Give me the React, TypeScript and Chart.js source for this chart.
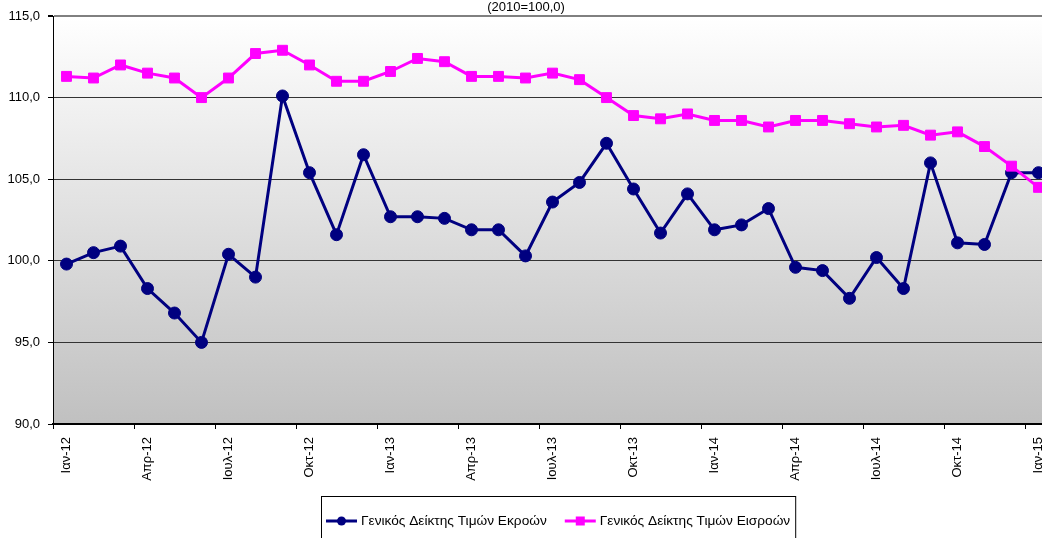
import React, { useEffect, useRef } from 'react';
import { Chart, registerables } from 'chart.js';

Chart.register(...registerables);

const FONT = '"Liberation Sans", Arial, Helvetica, sans-serif';

const categories = [
  'Ιαν-12', 'Φεβ-12', 'Μαρ-12', 'Απρ-12', 'Μαϊ-12', 'Ιουν-12', 'Ιουλ-12', 'Αυγ-12', 'Σεπ-12', 'Οκτ-12', 'Νοε-12', 'Δεκ-12',
  'Ιαν-13', 'Φεβ-13', 'Μαρ-13', 'Απρ-13', 'Μαϊ-13', 'Ιουν-13', 'Ιουλ-13', 'Αυγ-13', 'Σεπ-13', 'Οκτ-13', 'Νοε-13', 'Δεκ-13',
  'Ιαν-14', 'Φεβ-14', 'Μαρ-14', 'Απρ-14', 'Μαϊ-14', 'Ιουν-14', 'Ιουλ-14', 'Αυγ-14', 'Σεπ-14', 'Οκτ-14', 'Νοε-14', 'Δεκ-14',
  'Ιαν-15',
];

const outputIndex = [
  99.8, 100.5, 100.9, 98.3, 96.8, 95.0, 100.4, 99.0, 110.1, 105.4, 101.6, 106.5,
  102.7, 102.7, 102.6, 101.9, 101.9, 100.3, 103.6, 104.8, 107.2, 104.4, 101.7, 104.1,
  101.9, 102.2, 103.2, 99.6, 99.4, 97.7, 100.2, 98.3, 106.0, 101.1, 101.0, 105.4,
  105.4,
];

const inputIndex = [
  111.3, 111.2, 112.0, 111.5, 111.2, 110.0, 111.2, 112.7, 112.9, 112.0, 111.0, 111.0,
  111.6, 112.4, 112.2, 111.3, 111.3, 111.2, 111.5, 111.1, 110.0, 108.9, 108.7, 109.0,
  108.6, 108.6, 108.2, 108.6, 108.6, 108.4, 108.2, 108.3, 107.7, 107.9, 107.0, 105.8,
  104.5,
];

const seriesNames = ['Γενικός Δείκτης Τιμών Εκροών', 'Γενικός Δείκτης Τιμών Εισροών'];
const seriesColors = ['#000080', '#ff00ff'];
const titleText = '(2010=100,0)';
const yMin = 90;
const yMax = 115;
const yStep = 5;
const labelEvery = 3;

const bgPlugin = {
  id: 'plotBg',
  beforeDraw(chart: any) {
    const { ctx, chartArea: a } = chart;
    const g = ctx.createLinearGradient(0, a.top, 0, a.bottom);
    g.addColorStop(0, '#ffffff');
    g.addColorStop(1, '#c0c0c0');
    ctx.save();
    ctx.fillStyle = g;
    ctx.fillRect(a.left, a.top, a.right - a.left, a.bottom - a.top);
    ctx.restore();
  },
};

const legendPlugin = {
  id: 'boxLegend',
  afterDraw(chart: any) {
    const ctx = chart.ctx;
    ctx.save();
    ctx.font = `13.7px ${FONT}`;
    const left = 321;
    const top = 496.5;
    const cy = 521;
    const lineLen = 31;
    let x = left + 5;
    chart.data.datasets.forEach((ds: any, i: number) => {
      ctx.strokeStyle = ds.borderColor;
      ctx.lineWidth = 3;
      ctx.beginPath();
      ctx.moveTo(x, cy);
      ctx.lineTo(x + lineLen, cy);
      ctx.stroke();
      const mx = x + lineLen / 2;
      ctx.fillStyle = ds.borderColor;
      if (ds.pointStyle === 'rect') {
        ctx.fillRect(mx - 4.5, cy - 4.5, 9, 9);
      } else {
        ctx.beginPath();
        ctx.arc(mx, cy, 4.5, 0, Math.PI * 2);
        ctx.fill();
      }
      x += lineLen + 4;
      ctx.fillStyle = '#000';
      ctx.textBaseline = 'middle';
      ctx.textAlign = 'left';
      ctx.fillText(ds.label, x, cy);
      x += ctx.measureText(ds.label).width;
      if (i < chart.data.datasets.length - 1) x += 18;
    });
    const right = x + 5;
    ctx.strokeStyle = '#000';
    ctx.lineWidth = 1;
    ctx.strokeRect(left + 0.5, top, right - left, 60);
    ctx.restore();
  },
};

export default function App() {
  const ref = useRef<HTMLCanvasElement | null>(null);

  useEffect(() => {
    if (!ref.current) return;
    Chart.defaults.font.family = FONT;
    const chart = new Chart(ref.current, {
      type: 'line',
      data: {
        labels: categories,
        datasets: [
          {
            label: seriesNames[0],
            data: outputIndex,
            borderColor: seriesColors[0],
            backgroundColor: seriesColors[0],
            borderWidth: 3,
            pointStyle: 'circle',
            pointRadius: 6,
            pointBorderWidth: 1,
            tension: 0,
            order: 2,
          },
          {
            label: seriesNames[1],
            data: inputIndex,
            borderColor: seriesColors[1],
            backgroundColor: seriesColors[1],
            borderWidth: 3,
            pointStyle: 'rect',
            pointRadius: 7,
            pointBorderWidth: 1,
            tension: 0,
            order: 1,
          },
        ],
      },
      options: {
        responsive: false,
        animation: false,
        events: [],
        layout: { padding: { left: 0, right: 10, top: 0, bottom: 54 } },
        plugins: {
          legend: { display: false },
          tooltip: { enabled: false },
          title: {
            display: true,
            text: titleText,
            color: '#000',
            font: { size: 13, weight: 'normal', lineHeight: 1 },
            padding: { top: 1, bottom: 2 },
          },
        },
        scales: {
          x: {
            type: 'category',
            offset: true,
            afterFit(scale: any) {
              scale.height = 60;
              scale.paddingLeft = 0;
              scale.paddingRight = 0;
            },
            grid: {
              offset: true,
              drawOnChartArea: false,
              drawTicks: true,
              tickLength: 5,
              tickColor: (c: any) => (c.index % labelEvery === 0 ? '#000' : 'rgba(0,0,0,0)'),
            },
            border: { display: true, color: '#000', width: 2 },
            ticks: {
              autoSkip: false,
              maxRotation: 90,
              minRotation: 90,
              padding: 8,
              color: '#000',
              font: { size: 13 },
              callback: (_v: any, i: number) => (i % labelEvery === 0 ? categories[i] : ''),
            },
          },
          y: {
            min: yMin,
            max: yMax,
            afterFit(scale: any) {
              scale.width = 53;
            },
            grid: {
              drawTicks: true,
              tickLength: 5,
              tickColor: '#000',
              color: (c: any) => {
                const v = c.tick ? c.tick.value : null;
                if (v === yMax) return '#808080';
                if (v === yMin) return 'rgba(0,0,0,0)';
                return '#333333';
              },
              lineWidth: (c: any) => (c.tick && c.tick.value === yMax ? 2 : 1),
            },
            border: { display: true, color: '#000', width: 1 },
            ticks: {
              stepSize: yStep,
              padding: 8,
              color: '#000',
              font: { size: 13 },
              callback: (v: any) => Number(v).toFixed(1).replace('.', ','),
            },
          },
        },
      },
      plugins: [bgPlugin, legendPlugin],
    } as any);
    return () => chart.destroy();
  }, []);

  return (
    <div style={{ position: 'fixed', left: 0, top: 0, width: 1042, height: 538, overflow: 'hidden', background: '#fff' }}>
      <canvas ref={ref} width={1062} height={538} style={{ display: 'block', width: 1062, height: 538 }} />
    </div>
  );
}
